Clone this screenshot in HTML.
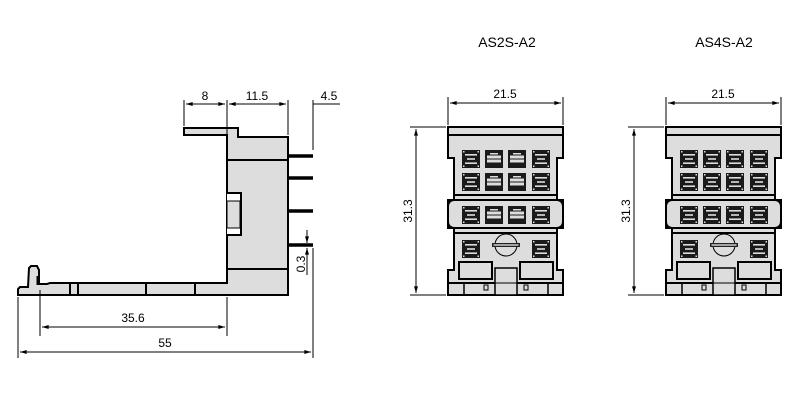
<!DOCTYPE html>
<html><head><style>
html,body{margin:0;padding:0;background:#fff;}
svg{display:block;}
text{font-family:"Liberation Sans",Arial,sans-serif;fill:#000;}
</style></head><body>
<svg width="800" height="400" viewBox="0 0 800 400" xmlns="http://www.w3.org/2000/svg">
<defs>
<marker id="a" viewBox="0 0 10 6" refX="10" refY="3" markerWidth="7" markerHeight="4" orient="auto-start-reverse"><path d="M0,0 L10,3 L0,6 z" fill="#000"/></marker>
<g id="sA">
<rect x="0" y="0" width="18" height="18" fill="#1a1a1a"/>
<rect x="3" y="4" width="12" height="1.6" fill="#ddd"/>
<rect x="5" y="8.2" width="8" height="1.6" fill="#ddd"/>
<rect x="3" y="12.4" width="12" height="1.6" fill="#ddd"/>
<rect x="1" y="1" width="1.5" height="1.5" fill="#ddd"/><rect x="15.5" y="1" width="1.5" height="1.5" fill="#ddd"/>
<rect x="1" y="15.5" width="1.5" height="1.5" fill="#ddd"/><rect x="15.5" y="15.5" width="1.5" height="1.5" fill="#ddd"/>
</g>
<g id="sB">
<rect x="0" y="0" width="18" height="18" fill="#1a1a1a"/>
<rect x="2" y="5.5" width="14" height="7" fill="#ddd"/>
<rect x="5" y="3" width="8" height="1.5" fill="#ddd"/>
<rect x="2" y="8.5" width="14" height="1" fill="#1a1a1a"/>
</g>
<g id="body">
<path d="M0,0 H115 V31 H109 V73 H115 V101 H109 V143 H115 V168 H0 V143 H6 V101 H0 V73 H6 V31 H0 Z" fill="#ddd" stroke="#000" stroke-width="2"/>
<rect x="0" y="73" width="115" height="28" rx="6" fill="#ddd" stroke="#000" stroke-width="2"/>
<line x1="0" y1="8" x2="115" y2="8" stroke="#000" stroke-width="2"/>
<line x1="6" y1="68" x2="109" y2="68" stroke="#000" stroke-width="2"/>
<line x1="6" y1="106" x2="109" y2="106" stroke="#000" stroke-width="2"/>
<line x1="0" y1="156" x2="115" y2="156" stroke="#000" stroke-width="2"/>
<rect x="11" y="135" width="33" height="17" fill="#ddd" stroke="#000" stroke-width="2"/>
<rect x="72" y="135" width="33" height="17" fill="#ddd" stroke="#000" stroke-width="2"/>
<rect x="47" y="141" width="22" height="27" fill="#ddd" stroke="#000" stroke-width="1.5"/>
<line x1="47" y1="156" x2="69" y2="156" stroke="#000" stroke-width="1"/>
<line x1="16" y1="156" x2="16" y2="168" stroke="#000" stroke-width="1.5"/>
<line x1="100" y1="156" x2="100" y2="168" stroke="#000" stroke-width="1.5"/>
<rect x="36" y="158" width="4" height="5" fill="none" stroke="#000" stroke-width="1"/>
<rect x="76" y="158" width="4" height="5" fill="none" stroke="#000" stroke-width="1"/>
<circle cx="58" cy="118" r="11" fill="#ddd" stroke="#000" stroke-width="1"/>
<rect x="44" y="116" width="28" height="4" fill="#222"/>
<rect x="45.5" y="117.3" width="25" height="1.4" fill="#ddd"/>
</g>
</defs>

<text x="507" y="47" font-size="14" text-anchor="middle">AS2S-A2</text>
<text x="724" y="47" font-size="14" text-anchor="middle">AS4S-A2</text>

<g stroke="#000" stroke-width="2">
<path d="M184,128 H238 V137 H288 V295 H18 V289 L20,287 H28 L29,268 L31,266 H37 L39,270 L39,284 H47 L50,283 H227 V135 H184 Z" fill="#ddd"/>
<path d="M227,193 H241 V235 H227" fill="#fff"/>
<rect x="227" y="201" width="13" height="27" fill="#ddd" stroke-width="1"/>
<line x1="227" y1="160" x2="288" y2="160"/>
<line x1="227" y1="269" x2="288" y2="269"/>
<line x1="70" y1="283" x2="70" y2="295"/>
<line x1="78" y1="283" x2="78" y2="295"/>
<line x1="146" y1="283" x2="146" y2="295"/>
<line x1="195" y1="283" x2="195" y2="295"/>
<line x1="38" y1="276" x2="38" y2="285" stroke-width="3"/>
</g>
<g stroke="#000" stroke-width="3.5">
<line x1="288" y1="156" x2="313" y2="156"/>
<line x1="288" y1="178" x2="313" y2="178"/>
<line x1="288" y1="211" x2="313" y2="211"/>
<line x1="288" y1="245" x2="313" y2="245"/>
</g>
<g stroke="#000" stroke-width="1" fill="none">
<line x1="184" y1="100" x2="184" y2="126"/>
<line x1="227" y1="100" x2="227" y2="134"/>
<line x1="288" y1="100" x2="288" y2="135"/>
<line x1="313" y1="100" x2="313" y2="150"/>
<line x1="186" y1="104" x2="225" y2="104" marker-start="url(#a)" marker-end="url(#a)"/>
<line x1="229" y1="104" x2="286" y2="104" marker-start="url(#a)" marker-end="url(#a)"/>
<line x1="313" y1="104" x2="340" y2="104"/>
<line x1="40" y1="290" x2="40" y2="336"/>
<line x1="227" y1="297" x2="227" y2="336"/>
<line x1="42" y1="327" x2="225" y2="327" marker-start="url(#a)" marker-end="url(#a)"/>
<line x1="18" y1="297" x2="18" y2="358"/>
<line x1="313" y1="248" x2="313" y2="358"/>
<line x1="20" y1="352" x2="311" y2="352" marker-start="url(#a)" marker-end="url(#a)"/>
<line x1="307" y1="230" x2="307" y2="243" marker-end="url(#a)"/>
<line x1="307" y1="275" x2="307" y2="248" marker-end="url(#a)"/>
</g>
<text x="205" y="100" font-size="12" text-anchor="middle">8</text>
<text x="257" y="100" font-size="12" text-anchor="middle">11.5</text>
<text x="329" y="100" font-size="12" text-anchor="middle">4.5</text>
<text x="133" y="322" font-size="12" text-anchor="middle">35.6</text>
<text x="165" y="347" font-size="12" text-anchor="middle">55</text>
<text font-size="12" text-anchor="middle" transform="translate(305,264) rotate(-90)">0.3</text>

<g transform="translate(448,127)">
<use href="#body"/>
<use href="#sA" x="14" y="23"/><use href="#sB" x="37" y="23"/><use href="#sB" x="60" y="23"/><use href="#sA" x="84" y="23"/>
<use href="#sA" x="14" y="46"/><use href="#sB" x="37" y="46"/><use href="#sB" x="60" y="46"/><use href="#sA" x="84" y="46"/>
<use href="#sA" x="14" y="79"/><use href="#sB" x="37" y="79"/><use href="#sB" x="60" y="79"/><use href="#sA" x="84" y="79"/>
<use href="#sA" x="14" y="113"/><use href="#sA" x="84" y="113"/>
</g>
<g transform="translate(666,127)">
<use href="#body"/>
<use href="#sA" x="14" y="23"/><use href="#sA" x="37" y="23"/><use href="#sA" x="60" y="23"/><use href="#sA" x="84" y="23"/>
<use href="#sA" x="14" y="46"/><use href="#sA" x="37" y="46"/><use href="#sA" x="60" y="46"/><use href="#sA" x="84" y="46"/>
<use href="#sA" x="14" y="79"/><use href="#sA" x="37" y="79"/><use href="#sA" x="60" y="79"/><use href="#sA" x="84" y="79"/>
<use href="#sA" x="14" y="113"/><use href="#sA" x="84" y="113"/>
</g>
<g stroke="#000" stroke-width="1" fill="none">
<line x1="448" y1="97" x2="448" y2="125"/><line x1="563" y1="97" x2="563" y2="125"/>
<line x1="450" y1="103" x2="561" y2="103" marker-start="url(#a)" marker-end="url(#a)"/>
<line x1="410" y1="127" x2="446" y2="127"/><line x1="410" y1="295" x2="446" y2="295"/>
<line x1="416" y1="129" x2="416" y2="293" marker-start="url(#a)" marker-end="url(#a)"/>
<line x1="666" y1="97" x2="666" y2="125"/><line x1="781" y1="97" x2="781" y2="125"/>
<line x1="668" y1="103" x2="779" y2="103" marker-start="url(#a)" marker-end="url(#a)"/>
<line x1="628" y1="127" x2="664" y2="127"/><line x1="628" y1="295" x2="664" y2="295"/>
<line x1="634" y1="129" x2="634" y2="293" marker-start="url(#a)" marker-end="url(#a)"/>
</g>
<text x="505" y="98" font-size="12" text-anchor="middle">21.5</text>
<text x="723" y="98" font-size="12" text-anchor="middle">21.5</text>
<text font-size="12" text-anchor="middle" transform="translate(412,211) rotate(-90)">31.3</text>
<text font-size="12" text-anchor="middle" transform="translate(630,211) rotate(-90)">31.3</text>
</svg>
</body></html>
